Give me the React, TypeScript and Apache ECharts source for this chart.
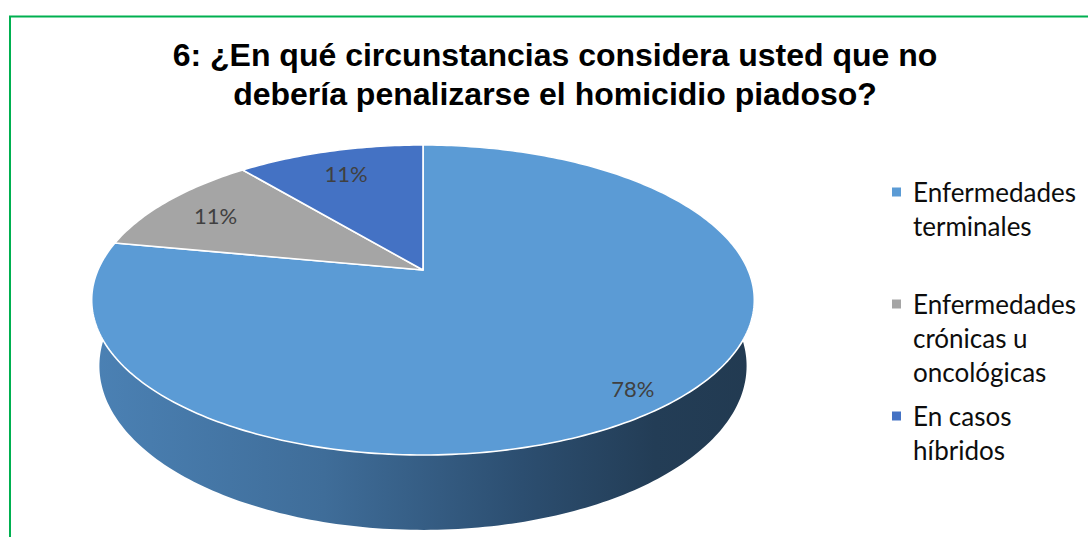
import React, { useEffect, useRef } from "react";
import * as echarts from "echarts";

const categories = [
  "Enfermedades terminales",
  "Enfermedades crónicas u oncológicas",
  "En casos híbridos",
];
const legendLines = [
  ["Enfermedades", "terminales"],
  ["Enfermedades", "crónicas u", "oncológicas"],
  ["En casos", "híbridos"],
];
const values = [78, 11, 11];
const sliceColors = ["#5B9BD5", "#A5A5A5", "#4472C4"];
const titleLines = [
  "6: ¿En qué circunstancias considera usted que no",
  "debería penalizarse el homicidio piadoso?",
];

// 3D projection settings (style only)
const GEO = { cx: 423, cy: 270, f: 1492, d: 4.59, sinA: 0.459, cosA: 0.888, depth: 0.23 };
const sideStops = [
  [
    { offset: 0, color: "#4B81B4" },
    { offset: 0.35, color: "#3F6D99" },
    { offset: 0.65, color: "#2C4E70" },
    { offset: 0.85, color: "#233D56" },
    { offset: 1, color: "#223A51" },
  ],
  [
    { offset: 0, color: "#7A7A7A" },
    { offset: 1, color: "#4A4A4A" },
  ],
  [
    { offset: 0, color: "#3A62A8" },
    { offset: 1, color: "#22386A" },
  ],
];

function project(theta: number, r: number, y: number): number[] {
  const X = r * Math.sin(theta);
  const Z = r * Math.cos(theta);
  const yc = y * GEO.cosA + Z * GEO.sinA;
  const zc = GEO.d + Z * GEO.cosA - y * GEO.sinA;
  return [GEO.cx + (GEO.f * X) / zc, GEO.cy - (GEO.f * yc) / zc];
}

const total = values.reduce((a, b) => a + b, 0);
const starts: number[] = [];
{
  let acc = 0;
  values.forEach((v) => {
    starts.push(acc / total);
    acc += v;
  });
}

export default function App() {
  const ref = useRef<HTMLDivElement>(null);
  useEffect(() => {
    const chart = echarts.init(ref.current!, null, { renderer: "svg" });
    const TWO_PI = Math.PI * 2;

    const series = categories.map((name, i) => ({
      type: "custom",
      name,
      coordinateSystem: "none",
      data: [values[i]],
      itemStyle: { color: sliceColors[i] },
      silent: true,
      renderItem: (_params: any, api: any) => {
        const v = api.value(0) as number;
        const a0 = starts[i] * TWO_PI;
        const a1 = a0 + (v / total) * TWO_PI;
        const n = Math.max(8, Math.ceil((a1 - a0) / (Math.PI / 180)));
        const topArc: number[][] = [];
        const botArc: number[][] = [];
        for (let k = 0; k <= n; k++) {
          const t = a0 + ((a1 - a0) * k) / n;
          topArc.push(project(t, 1, 0));
          botArc.push(project(t, 1, -GEO.depth));
        }
        const topPts = [project(0, 0, 0), ...topArc];
        const sidePts = [...topArc, ...botArc.slice().reverse()];
        const mid = (a0 + a1) / 2;
        const pct = Math.round((v / total) * 100);
        const lr = pct > 50 ? 0.88 : 0.8;
        const lp = project(mid, lr, 0);
        return {
          type: "group",
          children: [
            {
              type: "polygon",
              z2: 1,
              shape: { points: sidePts },
              style: {
                fill: new echarts.graphic.LinearGradient(0, 0, 1, 0, sideStops[i]),
                stroke: null,
              },
            },
            {
              type: "polygon",
              z2: 10,
              shape: { points: topPts },
              style: { fill: sliceColors[i], stroke: "#ffffff", lineWidth: 1.6, lineJoin: "round" },
            },
            {
              type: "text",
              z2: 20,
              style: {
                text: pct + "%",
                x: lp[0],
                y: lp[1] + 2,
                fill: "#404040",
                fontSize: 22,
                fontFamily: "Lato",
                align: "center",
                verticalAlign: "middle",
              },
            },
          ],
        };
      },
    }));

    const rich: any = {
      t: { fontSize: 26, fontFamily: "Lato", color: "#0D0D0D", lineHeight: 34 },
      g: { width: 12, lineHeight: 34, fontSize: 26 },
      ind: { width: 21, lineHeight: 34, fontSize: 26 },
    };
    sliceColors.forEach((c, i) => {
      rich["m" + i] = { width: 9, height: 9, backgroundColor: c, lineHeight: 34, fontSize: 26 };
    });

    chart.setOption({
      animation: false,
      backgroundColor: "#ffffff",
      title: {
        text: titleLines.join("\n"),
        left: 555,
        textAlign: "center",
        top: 35,
        padding: 0,
        textStyle: {
          fontFamily: "Liberation Sans",
          fontWeight: "bold",
          fontSize: 32,
          color: "#000000",
          lineHeight: 39,
        },
      },
      legend: {
        orient: "vertical",
        left: 886,
        top: 175,
        padding: 0,
        itemGap: 10,
        icon: "none",
        itemWidth: 1,
        itemHeight: 1,
        selectedMode: false,
        data: categories,
        formatter: (name: string) => {
          const i = categories.indexOf(name);
          const lines = legendLines[i];
          let s = `{m${i}| }{g| }{t|${lines[0]}}`;
          for (let k = 1; k < lines.length; k++) s += `\n{ind| }{t|${lines[k]}}`;
          for (let k = lines.length; k < 3; k++) s += `\n{t| }`;
          return s;
        },
        textStyle: { fontSize: 26, fontFamily: "Lato", color: "#0D0D0D", lineHeight: 34, rich },
      },
      graphic: [
        {
          type: "rect",
          silent: true,
          shape: { x: 10, y: 16.5, width: 1200, height: 700 },
          style: { fill: "none", stroke: "#00B050", lineWidth: 2 },
        },
      ],
      series,
    });
    return () => chart.dispose();
  }, []);
  return (
    <div
      ref={ref}
      style={{ position: "fixed", left: 0, top: 0, width: 1088, height: 537, background: "#fff" }}
    />
  );
}
